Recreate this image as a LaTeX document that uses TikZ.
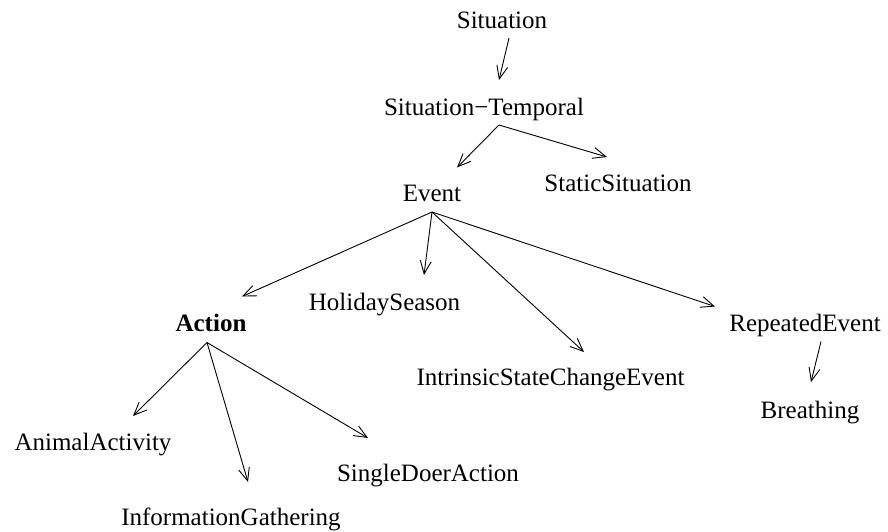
\documentclass[tikz,border=0pt]{standalone}
\usepackage{fontspec}
\setmainfont{Liberation Serif}
\usetikzlibrary{arrows.meta,calc}
\begin{document}
\begin{tikzpicture}[x=1pt,y=-1pt,
  lbl/.style={anchor=base,inner sep=0pt,font=\fontsize{25}{30}\selectfont},
  isa/.style={line width=0.9pt,-{Straight Barb[length=13pt,width=11pt,line width=0.9pt]}}]
\path[use as bounding box] (0,0) rectangle (888,531);
\node[lbl] (sit) at (502,28) {Situation};
\node[lbl] (st) at (484,115) {Situation−Temporal};
\node[lbl] (ev) at (432,201.5) {Event};
\node[lbl] (ss) at (618,191) {StaticSituation};
\node[lbl,font=\fontsize{25}{30}\selectfont\bfseries] (act) at (211,331.5) {Action};
\node[lbl] (hs) at (384.5,310) {HolidaySeason};
\node[lbl] (isc) at (550.5,385) {IntrinsicStateChangeEvent};
\node[lbl] (re) at (805,331.5) {RepeatedEvent};
\node[lbl] (br) at (810,418) {Breathing};
\node[lbl] (aa) at (93,450) {AnimalActivity};
\node[lbl] (ig) at (231,525) {InformationGathering};
\node[lbl] (sda) at (428,481) {SingleDoerAction};
\draw[isa] ($(sit.base)+(7,10)$) -- ($(st.base)+(15,-35)$);
\draw[isa] ($(st.base)+(15,10)$) -- ($(ev.base)+(25,-34)$);
\draw[isa] ($(st.base)+(15,10)$) -- ($(ss.base)+(-11,-34)$);
\draw[isa] ($(ev.base)+(0,10.5)$) -- ($(act.base)+(31,-35)$);
\draw[isa] ($(ev.base)+(0,10.5)$) -- ($(hs.base)+(39.5,-35)$);
\draw[isa] ($(ev.base)+(0,10.5)$) -- ($(isc.base)+(33.5,-33)$);
\draw[isa] ($(ev.base)+(0,10.5)$) -- ($(re.base)+(-90,-25)$);
\draw[isa] ($(act.base)+(-4,11)$) -- ($(aa.base)+(40,-34)$);
\draw[isa] ($(act.base)+(-4,11)$) -- ($(ig.base)+(17,-43)$);
\draw[isa] ($(act.base)+(-4,11)$) -- ($(sda.base)+(-60,-43)$);
\draw[isa] ($(re.base)+(16,10)$) -- ($(br.base)+(1,-36)$);
\end{tikzpicture}
\end{document}
